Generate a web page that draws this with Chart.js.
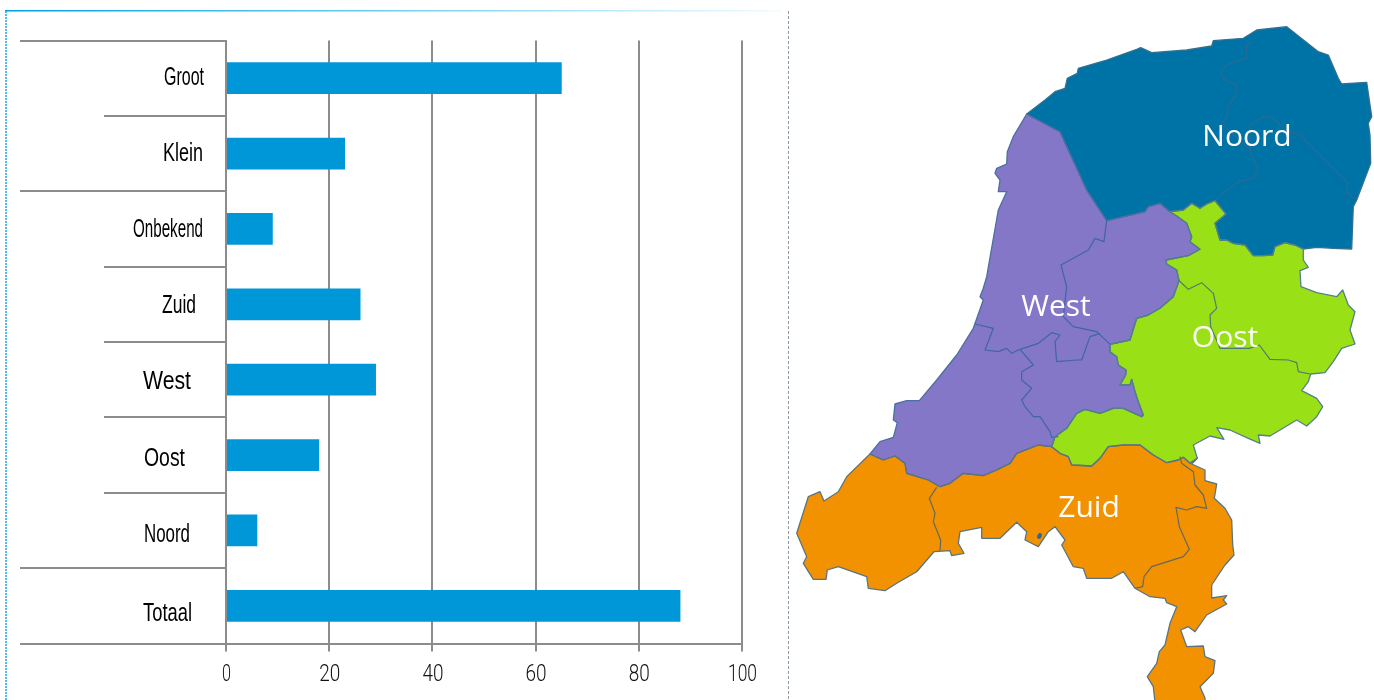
<!DOCTYPE html>
<html><head><meta charset="utf-8">
<script src="https://cdn.jsdelivr.net/npm/chart.js@4/dist/chart.umd.min.js"></script>
<style>html,body{margin:0;padding:0;background:#fff;overflow:hidden}canvas{display:block}</style>
</head><body><canvas id="c" width="1374" height="700"></canvas>
<script>
const categories = ['Groot','Klein','Onbekend','Zuid','West','Oost','Noord','Totaal'];
const values = [65,23,9,26,29,18,6,88];
const xTicks = [0,20,40,60,80,100];

// label placement in the reference (right edge, vertical nudge, target width)
const labelRight = [204,203,203,196,191,185,190,192];
const labelNudge = [0,1,1,2,2.5,4,5,8.5];
const labelWidth = [40,40,70,34,48,41,46,49];
const xTickWidth = [9,21,21,21,21,29];
const longRule = [true,false,true,false,false,false,false,true,true];

// map outlines, page pixels
const westNoord = [[1026.7,114],[1060,131.7],[1086.7,190],[1106.7,220.7],[1145,211.7],[1148.3,206.7],[1160,203.3],[1170,211.7]];
const noordOost = [[1170,211.7],[1183.3,210],[1191.7,203.3],[1200,208.3],[1206.7,204],[1215,200.7],[1226,214],[1215,223.3],[1220,240],[1226.7,240],[1233.3,243.3],[1245,245],[1253.3,255.7],[1263.3,255.7],[1272.7,255],[1275,246.7],[1285,242.7],[1295,245],[1303.3,249]];
const noordOuter = [[1303.3,249],[1316.7,247.3],[1333.3,248.3],[1351.7,249],[1353.3,206.7],[1356.7,200],[1370.7,163.3],[1370,135],[1368.3,123.3],[1371.7,116.7],[1366.7,82.3],[1341.7,84],[1338.3,78.3],[1328.3,55],[1318.3,51.7],[1286.7,26.7],[1256.7,30],[1243.3,38.3],[1213.3,40.7],[1211.7,46],[1186.7,50],[1151.7,52.7],[1140.7,47.7],[1136.7,49.3],[1106.7,60],[1078.3,68.3],[1077.3,73.3],[1067.3,78.3],[1065,88.3],[1055,91.7],[1045,100],[1026.7,114]];
const westOost = [[1170,211.7],[1176.7,216],[1186.7,223.3],[1191.7,236.7],[1190,241.7],[1200,249.3],[1188.3,255.7],[1166,260],[1166.7,264],[1176.7,270],[1179,280.7],[1173.3,296.7],[1160,308.3],[1148.3,315],[1136.7,318.3],[1130,340],[1110,344.3],[1110,351.7],[1116.7,356.7],[1118.3,365],[1126,370],[1125.7,375],[1120,385],[1130,385],[1131.7,379.3],[1135,391.7],[1138.3,401.7],[1143.3,415],[1141.7,416.7],[1123.3,408.3],[1113.3,408.3],[1100,413.3],[1085,409.3],[1076.7,413.3],[1066.7,428.3],[1055,436.7],[1051.7,446.7]];
const westZuid = [[1051.7,446.7],[1038.3,445],[1016.7,453.3],[1010,463.3],[996.7,470],[983.3,475.7],[963.3,473.3],[950,483.3],[940,486.7],[928.3,480],[906.7,473.3],[905,463.3],[895,456],[883.3,460],[870,454]];
const westCoast = [[870,454],[880,441.7],[893.3,437.3],[897.3,422.7],[893.3,420],[895,404],[906.7,400.7],[919.3,400.7],[936.7,380],[956.7,355],[973.3,328.3],[983.3,300],[980,296.7],[983.3,288.3],[986.7,276.7],[998.3,210],[1006.7,191.7],[998.3,191.7],[1000,180],[995,173.3],[996.7,168.3],[1006.7,164],[1007.3,151.7],[1013.3,136.7],[1026.7,114]];
const oostOuter = [[1303.3,249],[1303.3,260],[1308.3,267.3],[1300,270.7],[1301,286.7],[1316.7,292.7],[1336.7,296.7],[1342.7,290],[1348.3,305],[1355,311.7],[1350,330],[1355,344],[1341.7,348.3],[1333.3,361.7],[1325,372.7],[1310.7,374],[1308.3,381.7],[1301.7,390.7],[1316.7,398.3],[1322.7,406.7],[1316.7,416.7],[1306.7,426],[1296.7,420],[1270,436],[1258.3,435],[1260,443.3],[1248.3,438.3],[1230,430],[1216.7,427.7],[1224,439.3],[1210,436],[1193.3,445],[1197.3,458.3]];
const oostZuid = [[1197.3,458.3],[1190,463.3],[1183.3,457.3],[1178.3,460],[1166.7,462.7],[1153.3,455],[1140,445],[1123.3,445],[1108.3,446.7],[1100,458.3],[1091.7,466],[1071.7,465],[1068.3,456.7],[1060,453.3],[1051.7,446.7]];
const zuidOuter = [[1197.3,458.3],[1191.7,464],[1205,470],[1205,480.7],[1216.7,484],[1214.3,498.3],[1225,508.3],[1231.7,520],[1232.7,545],[1234,555],[1225,565],[1211.7,585],[1211.7,598],[1226.7,595.7],[1223.3,600],[1226.7,604],[1206.7,615],[1195,631.7],[1188.3,626.7],[1180.7,630],[1186.7,646.7],[1203.3,646],[1205,656.7],[1215,660.7],[1213.3,673.3],[1200,686.7],[1205,698],[1205,702],[1155,702],[1153.3,686.7],[1147.3,676.7],[1156.7,663.3],[1159.3,651.7],[1165,645],[1170,623.3],[1176.7,606.7],[1166.7,602.7],[1165,598.3],[1150,596.7],[1135,588.3],[1123.3,571.7],[1111.7,578.3],[1086.7,578.3],[1083.3,568.3],[1073.3,566.7],[1061.7,545],[1065,540],[1055,526.7],[1048.3,531.7],[1038.3,546.7],[1025,540],[1026.7,531.7],[1016.7,522.3],[1000,538.3],[981.7,538.3],[981.7,527.3],[960,531.7],[958.3,543.3],[964,553.3],[951.7,555.7],[950,550.7],[934,551.7],[916.7,571.7],[896.7,583.3],[885,590.7],[868.3,588.3],[866.7,576.7],[838.3,566.7],[827.3,570],[826,579.3],[813.3,579.3],[803.3,563.3],[806.7,556.7],[796.7,533.3],[808.3,496.7],[820,491.7],[824,501],[838.3,491.7],[846.7,476.7],[870,454]];

// inner province borders: [originX, originY, flat list from the 3x crops]
const noordInner = [
 [980,10,[815,95,800,105,798,145,750,160,722,180,728,205,770,225,770,250,745,290,742,320,725,340,810,420,835,480,820,505,775,515,740,540,705,572]],
 [980,10,[810,420,810,345,850,320,880,322,915,360,960,375,1030,445,1105,520,1100,548,1130,570]]];
const westInner = [
 [980,10,[380,632,372,695,345,685,325,720,243,765,260,830,250,920,280,950,350,965,390,1003]],
 [790,300,[555,72,610,85,585,150,625,155,650,145,665,160,690,148,745,130,785,98,810,105,795,125,800,185,860,180,875,180,900,110,930,100]],
 [790,300,[690,148,730,195,695,215,695,240,725,265,695,300,705,320,730,350,750,350,780,395,785,412,805,410]]];
const oostInner = [
 [1040,180,[415,300,445,328,485,308,520,340,530,385,510,405,512,440,540,505,628,505,658,495,690,538,745,540,770,548,775,575,810,582]]];
const zuidInner = [
 [790,300,[440,562,418,595,435,640,430,665,452,720,450,752]],
 [1120,450,[180,20,185,40,220,65,225,105,250,135,260,175,230,170,200,180,168,172,178,230,208,298,190,320,95,350,72,380,68,410,45,415]]];

const rev = a => a.slice().reverse();
const regions = [
 {fill:'#0073a6', stroke:'#33708f', pts:[...westNoord, ...noordOost, ...noordOuter], inner:noordInner, innerColor:'#2a6a96'},
 {fill:'#8577c8', stroke:'#4a6fa0', pts:[...westNoord, ...westOost, ...westZuid, ...westCoast], inner:westInner, innerColor:'#3f66a3'},
 {fill:'#9ae016', stroke:'#54808a', pts:[...noordOost, ...oostOuter, ...oostZuid, ...rev(westOost)], inner:oostInner, innerColor:'#4d7d70'},
 {fill:'#f39200', stroke:'#5c7480', pts:[...rev(westZuid), ...rev(oostZuid), ...zuidOuter], inner:zuidInner, innerColor:'#66695a'}
];
const mapLabels = [['Noord',1247,137],['West',1056,307],['Oost',1225,338],['Zuid',1089,508]];

const GRID = '#8c8c8c';
const trace = (ctx,pts) => { ctx.beginPath(); pts.forEach((p,i)=> i?ctx.lineTo(p[0],p[1]):ctx.moveTo(p[0],p[1])); };

const extras = {
 id:'extras',
 afterDraw(chart){
  const ctx = chart.ctx, y = chart.scales.y, x = chart.scales.x;
  // panel frame
  ctx.save();
  const g = ctx.createLinearGradient(5,0,782,0);
  g.addColorStop(0,'#00a0e3'); g.addColorStop(.5,'#70d0f2'); g.addColorStop(1,'#f4fbff');
  ctx.strokeStyle = g; ctx.lineWidth = 1.5;
  ctx.beginPath(); ctx.moveTo(5,10.7); ctx.lineTo(782,10.7); ctx.stroke();
  ctx.strokeStyle = '#1aa7e6'; ctx.setLineDash([2,1]); ctx.lineWidth = 1.5;
  ctx.beginPath(); ctx.moveTo(6,11); ctx.lineTo(6,700); ctx.stroke();
  ctx.strokeStyle = '#8f9aa3'; ctx.setLineDash([3,2]); ctx.lineWidth = 1;
  ctx.beginPath(); ctx.moveTo(788.5,11); ctx.lineTo(788.5,700); ctx.stroke();
  ctx.restore();

  // category labels, squeezed to the condensed widths of the reference
  ctx.save();
  ctx.fillStyle = '#000'; ctx.textBaseline = 'middle'; ctx.textAlign = 'left';
  ctx.font = '25px "Liberation Sans",sans-serif';
  categories.forEach((t,i)=>{
    const w = ctx.measureText(t).width;
    ctx.save();
    ctx.translate(labelRight[i]-labelWidth[i], y.getPixelForValue(i)+labelNudge[i]);
    ctx.scale(labelWidth[i]/w,1);
    ctx.fillText(t,0,0);
    ctx.restore();
  });
  // value axis labels
  ctx.font = '300 24px Roboto,sans-serif';
  ctx.fillStyle = '#111'; ctx.textAlign = 'center';
  xTicks.forEach((v,i)=>{
    const t = String(v), w = ctx.measureText(t).width;
    ctx.save();
    ctx.translate(x.getPixelForValue(v)+0.5, 674.5);
    ctx.scale(xTickWidth[i]/w,1);
    ctx.fillText(t,0,0);
    ctx.restore();
  });
  ctx.restore();

  // map
  ctx.save();
  ctx.filter = 'blur(0.4px)';
  ctx.lineJoin = 'round';
  regions.forEach(r=>{
    trace(ctx,r.pts); ctx.closePath();
    ctx.fillStyle = r.fill; ctx.fill();
  });
  regions.forEach(r=>{
    trace(ctx,r.pts); ctx.closePath();
    ctx.strokeStyle = r.stroke; ctx.lineWidth = 1.3; ctx.stroke();
    r.inner.forEach(([ox,oy,f])=>{
      const pts=[]; for(let i=0;i<f.length;i+=2) pts.push([ox+f[i]/3, oy+f[i+1]/3]);
      trace(ctx,pts); ctx.strokeStyle = r.innerColor; ctx.lineWidth = 1.2; ctx.stroke();
    });
  });
  ctx.fillStyle = '#2a6a96';
  ctx.beginPath(); ctx.ellipse(1039.5,536,2.2,3,0.4,0,7); ctx.fill();
  ctx.filter = 'none';
  ctx.fillStyle = '#fff'; ctx.textAlign = 'center'; ctx.textBaseline = 'middle';
  ctx.font = '30px "Open Sans","Noto Sans",sans-serif';
  mapLabels.forEach(([t,mx,my])=>ctx.fillText(t,mx,my));
  ctx.restore();
 }
};

new Chart(document.getElementById('c'),{
 type:'bar',
 data:{labels:categories,datasets:[{data:values,backgroundColor:'#0097d9',barThickness:31,borderWidth:0}]},
 plugins:[extras],
 options:{
  indexAxis:'y',responsive:false,animation:false,
  layout:{padding:{left:20,top:40.5,right:632,bottom:0}},
  plugins:{legend:{display:false},tooltip:{enabled:false},title:{display:false}},
  scales:{
   x:{type:'linear',min:0,max:100,
      afterBuildTicks:s=>{s.ticks=xTicks.map(v=>({value:v}));},
      afterFit:s=>{s.height=56.5;},
      border:{display:true,color:GRID,width:2},
      grid:{color:GRID,lineWidth:2,tickColor:GRID,tickLength:8,drawTicks:true},
      ticks:{display:false}},
   y:{type:'category',offset:true,
      afterFit:s=>{s.width=206;},
      border:{display:true,color:GRID,width:2,z:1},
      grid:{offset:true,drawOnChartArea:false,drawTicks:true,tickLength:206,tickColor:GRID,lineWidth:2,
            tickBorderDash:c=>(c.index===undefined||longRule[c.index])?[]:[0,84,122,0]},
      ticks:{display:false}}
  }
 }
});
</script></body></html>
